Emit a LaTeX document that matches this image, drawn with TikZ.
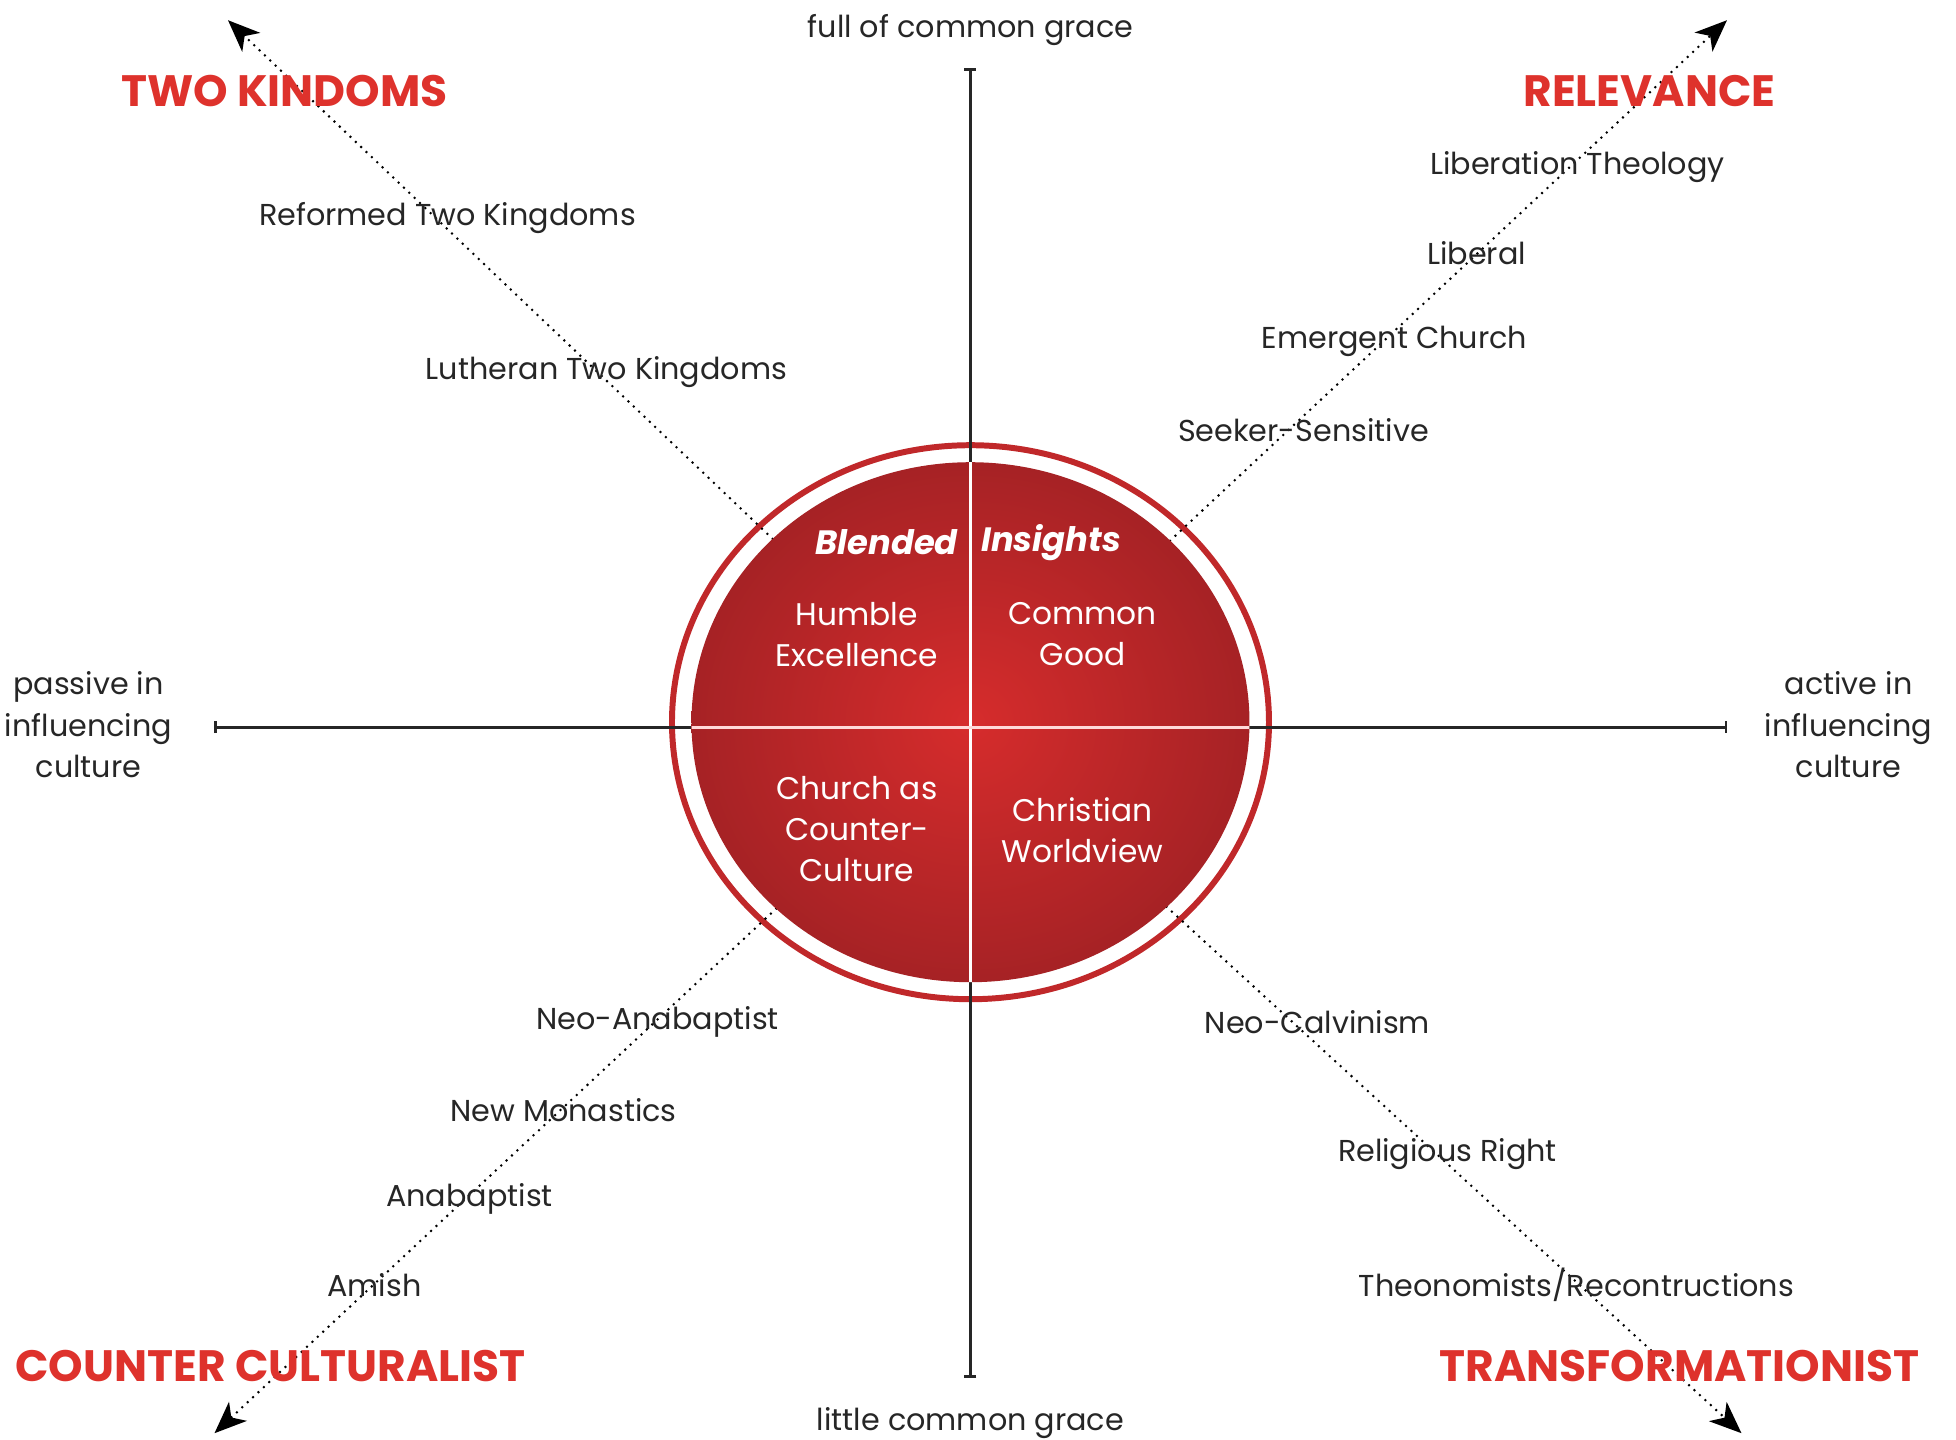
\documentclass[tikz,border=0pt]{standalone}
\usepackage{fontspec}
\setmainfont{Poppins}
\usepackage{xcolor}
\usepackage{tikz}
\usetikzlibrary{arrows.meta,positioning,calc}

\definecolor{headred}{RGB}{222,50,44}
\definecolor{ringred}{RGB}{192,40,42}
\definecolor{diskin}{RGB}{214,44,44}
\definecolor{diskout}{RGB}{166,34,37}

\tikzset{
  lbl/.style={font=\fontsize{8.6}{11.7}\selectfont, text=black!85, align=center, inner sep=0pt, yshift=-0.035cm},
  head/.style={font=\fontsize{12.5}{14}\bfseries\selectfont, text=headred, inner sep=0pt},
  inlbl/.style={font=\fontsize{8.9}{11.7}\selectfont, text=white, align=center, inner sep=0pt},
  blend/.style={font=\fontsize{9.6}{12}\bfseries\itshape\selectfont, text=white, inner sep=0pt},
  axis/.style={line width=0.8pt, black!85, {Bar[width=0.12cm]}-{Bar[width=0.12cm]}},
  diag/.style={line width=0.8pt, line cap=round, dash pattern=on 0pt off 2.1pt,
    -{Stealth[length=0.32cm,width=0.26cm,inset=0.09cm]}},
}

\begin{document}
\begin{tikzpicture}
    \useasboundingbox (-9.705,-7.118) rectangle (9.855,7.272);

    % Ends of the axes and diagonals
    \coordinate (c) at (0,0);
    \coordinate (top) at (0,6.59);
    \coordinate (bottom) at (0,-6.51);
    \coordinate (left) at (-7.56,0);
    \coordinate (right) at (7.57,0);
    \coordinate (tl) at (-7.425,7.07);
    \coordinate (tr) at (7.565,7.07);
    \coordinate (bl) at (-7.56,-7.06);
    \coordinate (br) at (7.71,-7.06);

    % Outer ring
    \draw[ringred, line width=1.7pt] (0,0.05) ellipse [x radius=2.985, y radius=2.77];

    % Axes
    \draw[axis] (bottom) -- (top);
    \draw[axis] (left) -- (right);

    % Diagonals
    \foreach \e in {tl,tr,bl,br}
        \draw[diag] (c) -- (\e);

    % Disk
    \shade[inner color=diskin, outer color=diskout] (0,0.05) ellipse [x radius=2.79, y radius=2.60];
    \begin{scope}
        \clip (0,0.05) ellipse [x radius=2.79, y radius=2.60];
        \draw[white, line width=0.9pt] (0,-3) -- (0,3);
        \draw[white!85!red, line width=0.9pt] (-3,0) -- (3,0);
    \end{scope}

    % Disk texts
    \node[blend, anchor=east] (blended) at (-0.12,1.85) {Blended};
    \node[blend, anchor=west] (insights) at (0.10,1.85) {Insights};
    \node[inlbl] (humble) at (-1.135,0.93) {Humble\\Excellence};
    \node[inlbl] (common) at (1.12,0.93) {Common\\Good};
    \node[inlbl] (church) at (-1.135,-1.02) {Church as\\Counter-\\Culture};
    \node[inlbl] (christian) at (1.12,-1.03) {Christian\\Worldview};

    % Axis labels
    \node[lbl] (full) at (0,7.01) {full of common grace};
    \node[lbl] (little) at (0,-6.92) {little common grace};
    \node[lbl] (passive) at (-8.82,0.06) {passive in\\influencing\\culture};
    \node[lbl] (active) at (8.78,0.06) {active in\\influencing\\culture};

    % Corner headings
    \node[head] (twok) at (-6.86,6.36) {TWO KINDOMS};
    \node[head] (relev) at (6.79,6.36) {RELEVANCE};
    \node[head] (counter) at (-7.00,-6.39) {COUNTER CULTURALIST};
    \node[head] (transf) at (7.09,-6.39) {TRANSFORMATIONIST};

    % Positions along the diagonals
    \foreach \nm/\x/\y/\txt in {rtk/-5.23/5.13/Reformed Two Kingdoms, ltk/-3.64/3.59/Lutheran Two Kingdoms,
        libt/6.07/5.64/Liberation Theology, libl/5.06/4.78/Liberal,
        emer/4.24/3.89/Emergent Church, seek/3.33/3.01/Seeker-Sensitive,
        neoa/-3.13/-2.91/Neo-Anabaptist, newm/-4.07/-3.79/New Monastics,
        anab/-5.01/-4.68/Anabaptist, amish/-5.96/-5.54/Amish,
        neoc/3.47/-2.91/Neo-Calvinism, relr/4.77/-4.23/Religious Right,
        theo/6.06/-5.54/{Theonomists/Recontructions}} {
        \node[lbl] (\nm) at (\x,\y) {\txt};
    }

\end{tikzpicture}
\end{document}
